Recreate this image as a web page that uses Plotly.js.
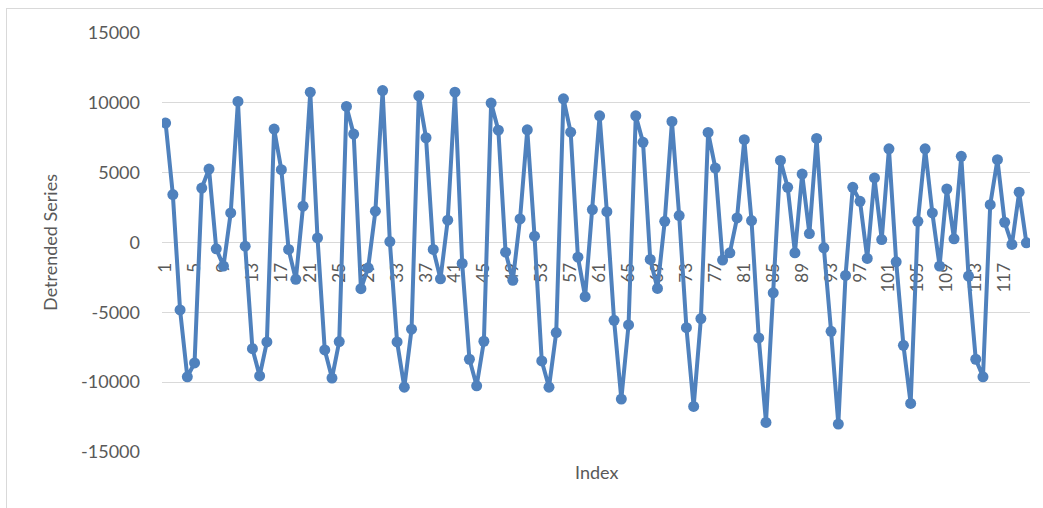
<!DOCTYPE html>
<html>
<head>
<meta charset="utf-8">
<script src="https://cdn.plot.ly/plotly-3.0.1.min.js"></script>
<style>
  html, body { margin: 0; padding: 0; background: #ffffff; }
  #wrap { position: relative; width: 1043px; height: 508px; }
  #chart { width: 1043px; height: 508px; }
  #frame { position: absolute; left: 6px; top: 8px; right: 0; bottom: 0;
           border-left: 1px solid #d9d9d9; border-top: 1px solid #d9d9d9; pointer-events: none; }
</style>
</head>
<body>
<div id="wrap"><div id="chart"></div><div id="frame"></div></div>
<script>
// Detrended series values, index 1..120
const detrended = [
  8550, 3430, -4830, -9620, -8620, 3900, 5260, -450, -1690, 2120,
  10100, -260, -7600, -9550, -7120, 8120, 5210, -500, -2640, 2600,
  10760, 330, -7690, -9710, -7090, 9740, 7760, -3310, -1810, 2240,
  10880, 70, -7120, -10360, -6210, 10500, 7500, -500, -2600, 1600,
  10760, -1500, -8360, -10260, -7070, 9980, 8040, -690, -2710, 1690,
  8070, 450, -8480, -10360, -6450, 10290, 7900, -1050, -3880, 2360,
  9070, 2210, -5570, -11210, -5900, 9070, 7170, -1210, -3290, 1520,
  8670, 1930, -6100, -11740, -5450, 7880, 5330, -1260, -740, 1760,
  7360, 1570, -6830, -12880, -3600, 5880, 3950, -740, 4900, 640,
  7450, -380, -6360, -13000, -2360, 3950, 2950, -1140, 4620, 210,
  6710, -1380, -7360, -11520, 1520, 6710, 2120, -1690, 3830, 260,
  6170, -2400, -8360, -9620, 2710, 5930, 1450, -140, 3600, -20
];
const indexValues = detrended.map((_, i) => i + 1);
const xTickValues = [1, 5, 9, 13, 17, 21, 25, 29, 33, 37, 41, 45, 49, 53, 57, 61, 65, 69, 73, 77, 81, 85, 89, 93, 97, 101, 105, 109, 113, 117];
const xTickLabels = ["1", "5", "9", "13", "17", "21", "25", "29", "33", "37", "41", "45", "49", "53", "57", "61", "65", "69", "73", "77", "81", "85", "89", "93", "97", "101", "105", "109", "113", "117"];
const yTickValues = [-15000, -10000, -5000, 0, 5000, 10000, 15000];
const yTickLabels = ["-15000", "-10000", "-5000", "0", "5000", "10000", "15000"];

const fontFamily = "Lato, 'Open Sans', sans-serif";
const textColor = "#595959";
const seriesColor = "#4F81BD";

const trace = {
  x: indexValues,
  y: detrended,
  type: "scatter",
  mode: "lines+markers",
  line: { color: seriesColor, width: 4 },
  marker: { color: seriesColor, size: 11 },
  hoverinfo: "x+y"
};

const layout = {
  width: 1043,
  height: 508,
  margin: { l: 162, r: 13, t: 33, b: 56 },
  paper_bgcolor: "rgba(0,0,0,0)",
  plot_bgcolor: "#ffffff",
  showlegend: false,
  font: { family: fontFamily, color: textColor, size: 18 },
  xaxis: {
    range: [0.5, 120.5],
    anchor: "free",
    position: 0.5,
    layer: "below traces",
    tickmode: "array",
    tickvals: xTickValues,
    ticktext: xTickLabels,
    tickangle: -90,
    showgrid: false,
    zeroline: false,
    showline: false,
    ticks: "",
    ticklabelstandoff: 16,
    tickfont: { family: fontFamily, color: textColor, size: 17 }
  },
  yaxis: {
    range: [-15000, 15000],
    tickmode: "array",
    tickvals: yTickValues,
    ticktext: yTickLabels,
    showgrid: true,
    gridcolor: "#d9d9d9",
    gridwidth: 1.3,
    zeroline: true,
    zerolinecolor: "#d9d9d9",
    zerolinewidth: 1.3,
    showline: false,
    ticks: "",
    ticklabelstandoff: 21,
    tickfont: { family: fontFamily, color: textColor, size: 18 },
    title: { text: "Detrended Series", font: { family: fontFamily, color: textColor, size: 18 }, standoff: 18 }
  },
  annotations: [{
    text: "Index",
    xref: "paper", yref: "paper",
    x: 0.5, y: 0, yshift: -20,
    xanchor: "center", yanchor: "middle",
    showarrow: false,
    font: { family: fontFamily, color: textColor, size: 18 }
  }]
};

Plotly.newPlot("chart", [trace], layout, { displayModeBar: false, staticPlot: true });
</script>
</body>
</html>
